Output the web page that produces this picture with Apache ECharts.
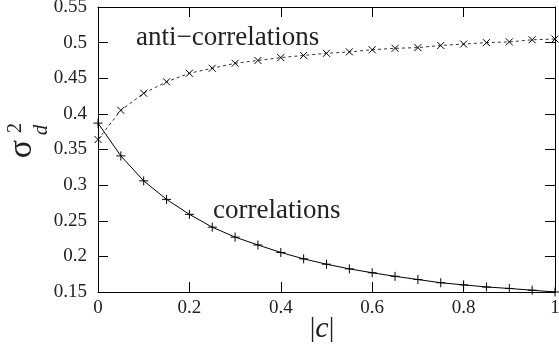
<!DOCTYPE html>
<html><head><meta charset="utf-8">
<script src="https://cdn.jsdelivr.net/npm/echarts@6/dist/echarts.min.js"></script>
<style>html,body{margin:0;padding:0;background:#fff}#c{width:559px;height:351px}</style>
</head><body><div id="c"></div>
<script>
const cValues = [0,0.05,0.1,0.15,0.2,0.25,0.3,0.35,0.4,0.45,0.5,0.55,0.6,0.65,0.7,0.75,0.8,0.85,0.9,0.95,1];
const correlations = [0.387,0.341,0.306,0.280,0.259,0.241,0.227,0.216,0.2055,0.1965,0.189,0.1825,0.177,0.172,0.1675,0.163,0.160,0.157,0.155,0.1525,0.150];
const antiCorrelations = [0.364,0.405,0.429,0.445,0.457,0.464,0.471,0.475,0.479,0.482,0.485,0.487,0.490,0.492,0.493,0.496,0.498,0.500,0.501,0.504,0.505];
const xTickLabels = ['0','0.2','0.4','0.6','0.8','1'];
const yTickLabels = ['0.15','0.2','0.25','0.3','0.35','0.4','0.45','0.5','0.55'];
const labelCorr = 'correlations';
const labelAnti = 'anti\u2212correlations';

const FONT = 'Liberation Serif';
const xFmt = v => xTickLabels[Math.round(v / 0.2)];
const yFmt = v => yTickLabels[Math.round((v - 0.15) / 0.05)];

const axisCommon = {
  axisLine: {show: true, onZero: false, lineStyle: {color: '#000', width: 1}},
  axisTick: {show: true, inside: true, length: 10, lineStyle: {color: '#000', width: 1}},
  splitLine: {show: false}
};

const chart = echarts.init(document.getElementById('c'), null, {renderer: 'canvas'});
chart.setOption({
  animation: false,
  backgroundColor: '#fff',
  grid: {left: 98, right: 4, top: 7, bottom: 59, containLabel: false, outerBoundsMode: 'none'},
  xAxis: [
    Object.assign({type: 'value', position: 'bottom', min: 0, max: 1, interval: 0.2,
      axisLabel: {formatter: xFmt, fontFamily: FONT, fontSize: 19, color: '#222', margin: 7}}, axisCommon),
    Object.assign({type: 'value', position: 'top', min: 0, max: 1, interval: 0.2,
      axisLabel: {show: false}}, axisCommon)
  ],
  yAxis: [
    Object.assign({type: 'value', position: 'left', min: 0.15, max: 0.55, interval: 0.05,
      axisLabel: {formatter: yFmt, fontFamily: FONT, fontSize: 19, color: '#222', margin: 11}}, axisCommon),
    Object.assign({type: 'value', position: 'right', min: 0.15, max: 0.55, interval: 0.05,
      axisLabel: {show: false}}, axisCommon)
  ],
  series: [
    {
      name: labelCorr, type: 'line', xAxisIndex: 0, yAxisIndex: 0,
      data: cValues.map((x, i) => [x, correlations[i]]),
      symbol: 'path://M5,0L5,10M0,5L10,5', symbolSize: 9, showAllSymbol: true,
      itemStyle: {color: 'none', borderColor: '#000', borderWidth: 1},
      lineStyle: {color: '#000', width: 1, type: 'solid'},
      clip: false, emphasis: {disabled: true}, z: 3
    },
    {
      name: labelAnti, type: 'line', xAxisIndex: 0, yAxisIndex: 0,
      data: cValues.map((x, i) => [x, antiCorrelations[i]]),
      symbol: 'path://M0,0L10,10M10,0L0,10', symbolSize: 7, showAllSymbol: true,
      itemStyle: {color: 'none', borderColor: '#000', borderWidth: 1},
      lineStyle: {color: '#333', width: 1, type: [3, 3]},
      clip: false, emphasis: {disabled: true}, z: 3
    }
  ],
  graphic: [
    {type: 'text', x: 136, y: 38, style: {text: labelAnti, fontFamily: FONT, fontSize: 27, fill: '#222', textAlign: 'left', textVerticalAlign: 'middle'}},
    {type: 'text', x: 213, y: 211, style: {text: labelCorr, fontFamily: FONT, fontSize: 27, fill: '#222', textAlign: 'left', textVerticalAlign: 'middle'}},
    {type: 'text', x: 322, y: 329, style: {
      text: '{a||}{b|c}{a||}', textAlign: 'center', textVerticalAlign: 'middle',
      rich: {a: {fontFamily: FONT, fontSize: 28, fill: '#222'}, b: {fontFamily: FONT, fontSize: 30, fontStyle: 'italic', fill: '#222'}}
    }},
    {type: 'group', x: 22, y: 149, rotation: Math.PI / 2, children: [
      {type: 'text', x: 0, y: 0, style: {text: '\u03c3', fontFamily: FONT, fontSize: 34, fill: '#222', textAlign: 'center', textVerticalAlign: 'middle'}},
      {type: 'text', x: 19, y: 19, style: {text: 'd', fontFamily: FONT, fontSize: 21, fontStyle: 'italic', fill: '#222', textAlign: 'center', textVerticalAlign: 'middle'}},
      {type: 'text', x: 21, y: -6, style: {text: '2', fontFamily: FONT, fontSize: 20, fill: '#222', textAlign: 'center', textVerticalAlign: 'middle'}}
    ]}
  ]
});
</script></body></html>
